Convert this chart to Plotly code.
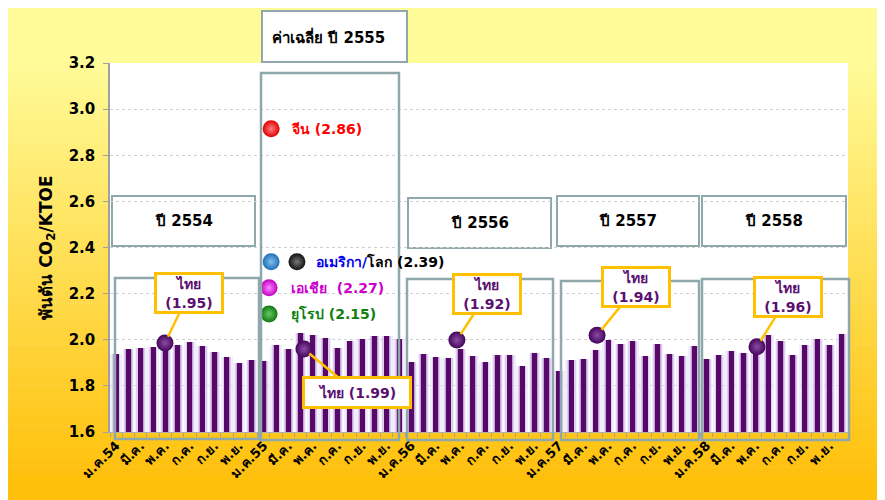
import plotly.graph_objects as go

# ---------------- data ----------------
month_abbr = ["ม.ค.", "ก.พ.", "มี.ค.", "เม.ย.", "พ.ค.", "มิ.ย.",
              "ก.ค.", "ส.ค.", "ก.ย.", "ต.ค.", "พ.ย.", "ธ.ค."]
years = ["54", "55", "56", "57", "58"]

intensity = [
    1.94, 1.96, 1.966, 1.967, 1.96, 1.979, 1.989, 1.972, 1.946, 1.925, 1.899, 1.911,   # 2554
    1.909, 1.976, 1.959, 2.031, 2.021, 2.009, 1.966, 1.995, 2.005, 2.018, 2.016, 2.002,  # 2555
    1.902, 1.938, 1.927, 1.922, 1.959, 1.928, 1.904, 1.935, 1.933, 1.886, 1.941, 1.920,  # 2556
    1.866, 1.914, 1.915, 1.954, 1.998, 1.980, 1.993, 1.928, 1.983, 1.937, 1.928, 1.972,  # 2557
    1.915, 1.935, 1.951, 1.944, 1.960, 2.021, 1.996, 1.933, 1.979, 2.002, 1.976, 2.025,  # 2558
]

year_titles = ["ปี 2554", "ค่าเฉลี่ย ปี 2555", "ปี 2556", "ปี 2557", "ปี 2558"]

# Thai yearly-average callouts
thai_labels = ["ไทย<br>(1.95)", "ไทย (1.99)", "ไทย<br>(1.92)", "ไทย<br>(1.94)", "ไทย<br>(1.96)"]
thai_x = [3.97, 15.27, 27.7, 39.1, 52.1]
thai_y = [1.986, 1.960, 1.999, 2.020, 1.970]

# world comparison markers (2555 averages)
world_names = ["จีน", "อเมริกา", "โลก", "เอเชีย", "ยุโรป"]
world_x = [12.6, 12.6, 14.7, 12.43, 12.43]
world_y = [2.915, 2.338, 2.338, 2.225, 2.112]
world_colors = ["#E00000", "#1F6FB5", "#111111", "#C000C0", "#117711"]
world_texts = [
    '<span style="color:#FF0000">จีน (2.86)</span>',
    '<span style="color:#0000EE">อเมริกา/</span><span style="color:#000000">โลก (2.39)</span>',
    '<span style="color:#CC00CC">เอเชีย  (2.27)</span>',
    '<span style="color:#108010">ยุโรป (2.15)</span>',
]
world_text_x = [14.05, 16.09, 14.05, 14.05]
world_text_y = [2.915, 2.338, 2.225, 2.112]

# ---------------- derived ----------------
n = len(intensity)
xs = list(range(n))
tickvals = list(range(0, n, 2))
ticktext = []
for i in tickvals:
    m = i % 12
    y = years[i // 12]
    ticktext.append(month_abbr[m] + y if m == 0 else month_abbr[m])

OFF = 8  # page body margin
W, H = 885 - OFF, 500 - OFF
L, R, T, B = 110 - OFF, 848 - OFF, 63 - OFF, 432 - OFF
FONT = "Tahoma, DejaVu Sans, Noto Sans, sans-serif"


def px(x):
    """screen pixel x -> paper"""
    return (x - OFF - L) / (R - L)


def py(y):
    """screen pixel y -> paper"""
    return (B - (y - OFF)) / (B - T)


fig = go.Figure()

# glow layers behind bars
fig.add_trace(go.Bar(x=xs, y=intensity, width=0.95, marker=dict(color="rgba(232,222,245,0.55)", line_width=0),
                     hoverinfo="skip", showlegend=False))
fig.add_trace(go.Bar(x=xs, y=intensity, width=0.7, marker=dict(color="rgba(205,182,228,0.55)", line_width=0),
                     hoverinfo="skip", showlegend=False))
fig.add_trace(go.Bar(x=xs, y=intensity, width=0.52, marker=dict(color="rgba(160,110,190,0.45)", line_width=0),
                     hoverinfo="skip", showlegend=False))
fig.add_trace(go.Bar(x=xs, y=intensity, width=0.4, marker=dict(color="#570868", line_width=0),
                     showlegend=False))

# Thai markers
fig.add_trace(go.Scatter(x=thai_x, y=thai_y, mode="markers",
                         marker=dict(size=17, color="#42065A", gradient=dict(type="radial", color="#8E4AA6"),
                                     line=dict(width=0)), showlegend=False))
# world markers
fig.add_trace(go.Scatter(x=world_x, y=world_y, mode="markers",
                         marker=dict(size=17, color=world_colors,
                                     gradient=dict(type="radial", color=["#FF8080", "#7FC0F0", "#777777", "#FF88FF", "#66CC66"]),
                                     line=dict(width=0)), showlegend=False))

shapes = []
# background gradient stripes
top_c = (255, 251, 153)
bot_c = (255, 192, 12)
y0p, y1p = 8, 500
nstr = 60
for k in range(nstr):
    a = y0p + (y1p - y0p) * k / nstr
    b = y0p + (y1p - y0p) * (k + 1) / nstr
    t = max(0.0, min(1.0, ((a + b) / 2 - 60) / (480 - 60)))
    c = tuple(round(top_c[j] + (bot_c[j] - top_c[j]) * t) for j in range(3))
    shapes.append(dict(type="rect", xref="paper", yref="paper", x0=px(5), x1=px(890), y0=py(b + 0.6), y1=py(a),
                       fillcolor="rgb(%d,%d,%d)" % c, line_width=0, layer="below"))
# white plot area
shapes.append(dict(type="rect", xref="paper", yref="paper", x0=0, x1=1, y0=0, y1=1,
                   fillcolor="white", line_width=0, layer="below"))

BOX = "#8FA8AC"
# header boxes (screen pixel rectangles)
header_boxes = [(112, 196, 255, 246), (262, 11, 407, 62), (408, 198, 551, 248), (557, 196, 699, 246), (702, 196, 846, 246)]
for (x0, y0, x1, y1) in header_boxes:
    shapes.append(dict(type="rect", xref="paper", yref="paper", x0=px(x0), x1=px(x1), y0=py(y1), y1=py(y0),
                       fillcolor="white", line=dict(color=BOX, width=2), layer="below"))
# year group boxes
group_boxes = [(115, 278, 259, 439), (261, 73, 399, 440), (407, 279, 553, 440), (561, 281, 699, 440), (702, 279, 849, 440)]
for (x0, y0, x1, y1) in group_boxes:
    shapes.append(dict(type="rect", xref="paper", yref="paper", x0=px(x0), x1=px(x1), y0=py(y1), y1=py(y0),
                       fillcolor="rgba(0,0,0,0)", line=dict(color=BOX, width=2.5), layer="above"))

annotations = []
for (x0, y0, x1, y1), txt in zip(header_boxes, year_titles):
    centered = txt.startswith("ปี")
    annotations.append(dict(xref="paper", yref="paper", x=px((x0 + x1) / 2) if centered else px(x0 + 8),
                            y=py((y0 + y1) / 2), text="<b>%s</b>" % txt, showarrow=False,
                            xanchor="center" if centered else "left", yanchor="middle",
                            font=dict(family=FONT, size=15, color="black")))

# Thai callouts
callout_off = [(24, -50), (53, 44), (30, -46), (39, -48), (31, -50)]
callout_w = [62, 102, 62, 62, 62]
callout_h = [34, 25, 34, 34, 34]
for i in range(len(thai_x)):
    annotations.append(dict(x=thai_x[i], y=thai_y[i], xref="x", yref="y", text="<b>%s</b>" % thai_labels[i],
                            showarrow=True, arrowhead=0, arrowcolor="#FFC000", arrowwidth=2.5,
                            ax=callout_off[i][0], ay=callout_off[i][1], standoff=7,
                            bgcolor="white", bordercolor="#FFC000", borderwidth=3, borderpad=1,
                            width=callout_w[i], height=callout_h[i],
                            font=dict(family=FONT, size=14, color="#5A1070")))

for i in range(len(world_texts)):
    annotations.append(dict(x=world_text_x[i], y=world_text_y[i], xref="x", yref="y",
                            text="<b>%s</b>" % world_texts[i], showarrow=False, xanchor="left", yanchor="middle",
                            font=dict(family=FONT, size=14)))

fig.update_layout(
    width=W, height=H,
    margin=dict(l=L, r=W - R, t=T, b=H - B, pad=0),
    paper_bgcolor="white", plot_bgcolor="rgba(0,0,0,0)",
    barmode="overlay", bargap=0,
    shapes=shapes, annotations=annotations,
    font=dict(family=FONT, color="black"),
    xaxis=dict(range=[-0.5, n - 0.5], tickmode="array", tickvals=tickvals, ticktext=ticktext,
               tickangle=-45, ticks="", showgrid=False, zeroline=False,
               showline=True, linecolor="#B0B0B0", linewidth=1,
               tickfont=dict(family=FONT, size=13, color="black", weight="bold"),
               minor=dict(tick0=-0.5, dtick=1, ticks="outside", ticklen=4, tickcolor="#A0A0A0", showgrid=False)),
    yaxis=dict(range=[1.6, 3.2], dtick=0.2, tickformat=".1f", ticks="outside", ticklen=5, tickcolor="#A0A0A0",
               ticklabelstandoff=5,
               showline=True, linecolor="#A0A0A0", linewidth=1.5,
               showgrid=True, gridcolor="#D0D0D0", griddash="dot", gridwidth=1, zeroline=False,
               tickfont=dict(family=FONT, size=15, color="black", weight="bold"),
               title=dict(text="<b>พันตัน CO<sub>2</sub>/KTOE</b>", font=dict(family=FONT, size=17, color="black"),
                          standoff=12)),
)

fig.write_html("out.html")
